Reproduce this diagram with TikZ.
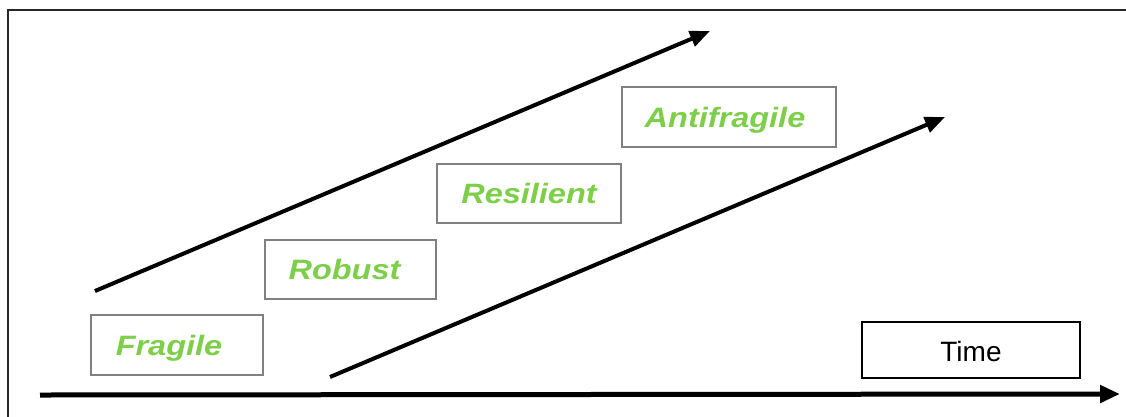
\documentclass[tikz,border=0pt]{standalone}
\usepackage{fontspec}
\setmainfont{Liberation Sans}
\newfontfamily\phasefont[FakeStretch=1.16]{Liberation Sans}
\usetikzlibrary{arrows.meta}
\definecolor{phasegreen}{RGB}{125,206,72}
\definecolor{boxgray}{RGB}{128,128,128}
\tikzset{
  phase/.style={draw=boxgray, line width=2.6pt, inner sep=0pt, text=phasegreen,
    text height=22pt, text depth=2pt,
    font=\phasefont\fontsize{28}{30}\selectfont\bfseries\itshape},
  timebox/.style={draw=black, line width=2pt, inner sep=0pt,
    text height=23pt, text depth=0pt,
    font=\fontsize{28}{30}\selectfont},
  bigarrow/.style={line width=4pt, -{Triangle[length=20pt,width=16pt]}},
  axisarrow/.style={line width=5pt, -{Triangle[length=20pt,width=17pt]}}
}
\begin{document}
\begin{tikzpicture}[x=1pt,y=-1pt]
\useasboundingbox (0,0) rectangle (1126,416);
\fill[white] (0,0) rectangle (1126,416);
\draw[line width=2pt, black!85] (8,420) -- (8,10) -- (1130,10);

\node[phase, minimum width=172pt, minimum height=60pt] (fragile) at (177,345) {Fragile\kern16pt};
\node[phase, minimum width=171pt, minimum height=59pt] (robust) at (350.5,269.5) {Robust\kern12pt};
\node[phase, minimum width=184pt, minimum height=59pt] (resilient) at (529,193.5) {Resilient};
\node[phase, minimum width=214pt, minimum height=60pt] (antifragile) at (729,117) {Antifragile\kern8pt};
\node[timebox, minimum width=218pt, minimum height=56pt] (time) at (971,350) {Time};

\coordinate (upS) at (95,291);
\coordinate (upE) at (710,31);
\coordinate (loS) at (330,377);
\coordinate (loE) at (945,117);
\coordinate (axS) at (40,395);
\coordinate (axE) at (1120,394);

\draw[bigarrow] (upS) -- (upE);
\draw[bigarrow] (loS) -- (loE);
\draw[axisarrow] (axS) -- (axE);
\end{tikzpicture}
\end{document}
